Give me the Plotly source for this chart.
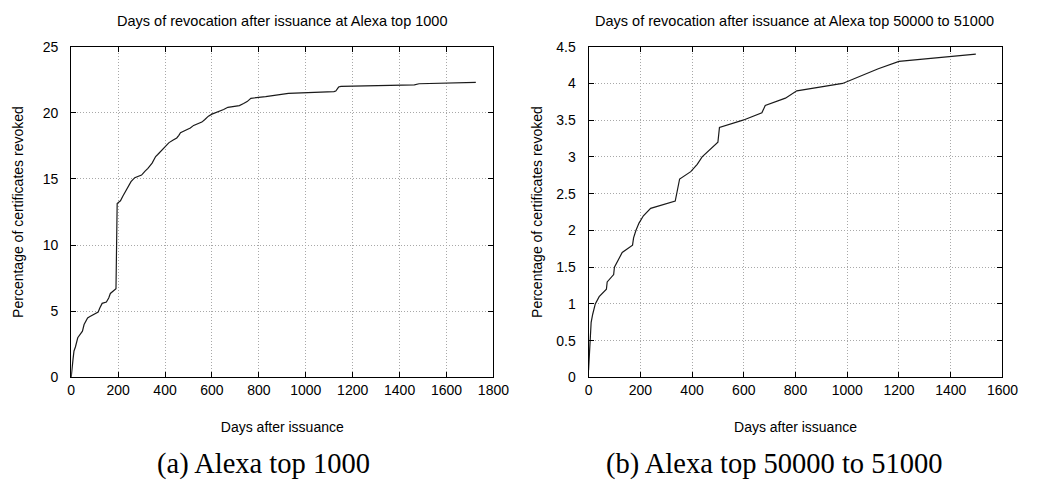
import plotly.graph_objects as go

# ---- data ----
top1000_days = [0, 3, 8, 12, 18, 28, 38, 48, 55, 62, 70, 80, 95, 108, 115, 122, 132, 150, 160,
                167, 180, 191, 196, 200, 210, 220, 230, 243, 255, 271, 290, 300, 315, 327, 345,
                360, 369, 380, 396, 405, 417, 435, 450, 459, 466, 490, 508, 522, 540, 557, 570,
                585, 600, 633, 650, 668, 690, 717, 735, 750, 766, 829, 926, 1010, 1120, 1128,
                1140, 1150, 1300, 1463, 1483, 1600, 1725]
top1000_pct = [0.0, 0.8, 1.4, 2.0, 2.3, 3.0, 3.3, 3.5, 4.0, 4.2, 4.5, 4.6, 4.75, 4.85, 4.95, 5.25,
               5.6, 5.7, 6.0, 6.35, 6.55, 6.7, 13.15, 13.2, 13.35, 13.7, 14.0, 14.5, 14.8, 15.1,
               15.25, 15.3, 15.6, 15.8, 16.2, 16.7, 16.85, 17.05, 17.35, 17.45, 17.75, 17.95,
               18.1, 18.3, 18.5, 18.7, 18.85, 19.05, 19.15, 19.3, 19.5, 19.75, 19.9, 20.1, 20.25,
               20.42, 20.5, 20.55, 20.7, 20.85, 21.1, 21.22, 21.47, 21.52, 21.6, 21.65, 21.95,
               22.0, 22.05, 22.12, 22.2, 22.25, 22.3]

top50k_days = [0, 6, 10, 16, 26, 41, 69, 72, 97, 100, 115, 130, 170, 174, 183, 195, 212, 240,
               335, 344, 352, 395, 420, 439, 470, 500, 506, 597, 670, 683, 761, 805, 982, 1050,
               1120, 1200, 1497]
top50k_pct = [0.1, 0.6, 0.75, 0.86, 1.0, 1.1, 1.2, 1.3, 1.4, 1.5, 1.6, 1.7, 1.8, 1.9, 2.0, 2.1,
              2.2, 2.3, 2.4, 2.55, 2.7, 2.8, 2.9, 3.0, 3.1, 3.2, 3.4, 3.5, 3.6, 3.7, 3.8, 3.9,
              4.0, 4.1, 4.2, 4.3, 4.4]

left_xticks = [0, 200, 400, 600, 800, 1000, 1200, 1400, 1600, 1800]
left_yticks = [0, 5, 10, 15, 20, 25]
right_xticks = [0, 200, 400, 600, 800, 1000, 1200, 1400, 1600]
right_yticks = [0, 0.5, 1, 1.5, 2, 2.5, 3, 3.5, 4, 4.5]
right_ytext = ["0", "0.5", "1", "1.5", "2", "2.5", "3", "3.5", "4", "4.5"]

title_left = "Days of revocation after issuance at Alexa top 1000"
title_right = "Days of revocation after issuance at Alexa top 50000 to 51000"
xlabel = "Days after issuance"
ylabel = "Percentage of certificates revoked"
caption_left = "(a) Alexa top 1000"
caption_right = "(b) Alexa top 50000 to 51000"

W, H = 1042, 487
SANS = "Liberation Sans"
SERIF = "Liberation Serif"

fig = go.Figure()
fig.add_trace(go.Scatter(x=top1000_days, y=top1000_pct, mode="lines",
                         line=dict(color="#1a1a1a", width=1.2), xaxis="x", yaxis="y",
                         showlegend=False, hoverinfo="skip"))
fig.add_trace(go.Scatter(x=top50k_days, y=top50k_pct, mode="lines",
                         line=dict(color="#1a1a1a", width=1.2), xaxis="x2", yaxis="y2",
                         showlegend=False, hoverinfo="skip"))

def px(v):
    return v / W

def py(v):
    return 1 - v / H

ydom = [py(382), py(40)]
axis_common = dict(showline=True, linecolor="black", linewidth=1, mirror="ticks",
                   ticks="inside", ticklen=5, tickwidth=1, tickcolor="black",
                   showgrid=True, gridcolor="#a8a8a8", griddash="1px,2px", gridwidth=1,
                   zeroline=False, tickfont=dict(family=SANS, size=14, color="black"),
                   fixedrange=True)
title_font = dict(family=SANS, size=14, color="black")

fig.update_layout(
    width=W, height=H, margin=dict(l=0, r=0, t=0, b=0),
    paper_bgcolor="white", plot_bgcolor="white",
    xaxis=dict(domain=[px(68.5), px(499)], range=[0, 1800], tickvals=left_xticks,
               anchor="y", title=dict(text=xlabel, font=title_font, standoff=24),
               **axis_common),
    yaxis=dict(domain=ydom, range=[0, 25], tickvals=left_yticks, anchor="x",
               ticklabelstandoff=9,
               title=dict(text=ylabel, font=title_font, standoff=15),
               **axis_common),
    xaxis2=dict(domain=[px(596), px(1018)], range=[0, 1600], tickvals=right_xticks,
                anchor="y2", title=dict(text=xlabel, font=title_font, standoff=24),
                **axis_common),
    yaxis2=dict(domain=ydom, range=[0, 4.5], tickvals=right_yticks, ticktext=right_ytext,
                anchor="x2", ticklabelstandoff=9,
                title=dict(text=ylabel, font=title_font, standoff=10),
                **axis_common),
    annotations=[
        dict(text=title_left, x=px(283), y=py(13), xref="paper", yref="paper",
             showarrow=False, xanchor="center", yanchor="middle",
             font=dict(family=SANS, size=14.5, color="black")),
        dict(text=title_right, x=px(806), y=py(13), xref="paper", yref="paper",
             showarrow=False, xanchor="center", yanchor="middle",
             font=dict(family=SANS, size=14.5, color="black")),
        dict(text=caption_left, x=px(265), y=py(471), xref="paper", yref="paper",
             showarrow=False, xanchor="center", yanchor="middle",
             font=dict(family=SERIF, size=28.5, color="black")),
        dict(text=caption_right, x=px(785), y=py(471), xref="paper", yref="paper",
             showarrow=False, xanchor="center", yanchor="middle",
             font=dict(family=SERIF, size=28.5, color="black")),
    ],
)

fig.write_html("out.html")
